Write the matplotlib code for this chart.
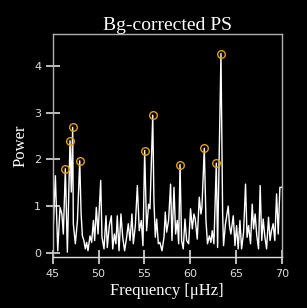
import matplotlib
matplotlib.use("Agg")
import matplotlib.pyplot as plt

# power spectrum (frequency in muHz, power)
freq = [45.0, 45.29, 45.55, 45.8, 46.0, 46.16, 46.38, 46.6, 46.89, 47.03,
        47.18, 47.25, 47.47, 47.7, 47.95, 48.1, 48.24, 48.4, 48.56, 48.7,
        48.85, 49.07, 49.25, 49.44, 49.58, 49.76, 49.95, 50.24, 50.38, 50.6,
        50.82, 50.96, 51.18, 51.4, 51.55, 51.73, 51.9, 52.05, 52.24, 52.45,
        52.64, 52.85, 53.07, 53.25, 53.44, 53.65, 53.8, 54.02, 54.24, 54.45,
        54.67, 54.85, 55.04, 55.25, 55.47, 55.62, 55.92, 56.05, 56.2, 56.35,
        56.53, 56.7, 56.93, 57.15, 57.29, 57.44, 57.65, 57.87, 58.02, 58.24,
        58.42, 58.6, 58.75, 58.9, 59.07, 59.25, 59.44, 59.62, 59.84, 60.05,
        60.24, 60.42, 60.56, 60.78, 61.0, 61.18, 61.29, 61.55, 61.73, 61.9,
        62.1, 62.27, 62.42, 62.6, 62.86, 63.0, 63.37, 63.55, 63.65, 63.85,
        64.16, 64.3, 64.45, 64.71, 64.9, 65.07, 65.25, 65.44, 65.62, 65.84,
        66.05, 66.22, 66.38, 66.6, 66.78, 66.93, 67.1, 67.28, 67.47, 67.65,
        67.82, 67.98, 68.15, 68.35, 68.56, 68.73, 68.88, 69.07, 69.25, 69.44,
        69.62, 69.8, 70.0]
power = [0.24, 1.65, 0.04, 0.97, 0.83, 0.40, 1.80, 0.01, 2.40, 1.30,
         2.69, 0.62, 0.19, 0.69, 1.97, 0.83, 0.36, 0.26, 0.08, 0.22,
         0.04, 0.36, 0.22, 0.69, 0.26, 0.97, 0.40, 1.55, 0.33, 0.08,
         0.79, 0.11, 0.58, 0.79, 0.08, 0.40, 0.19, 0.79, 0.04, 0.83,
         0.33, 0.04, 0.33, 0.62, 0.26, 0.83, 0.19, 0.58, 1.44, 0.47,
         0.69, 0.15, 2.19, 0.47, 1.04, 0.94, 2.95, 1.12, 0.33, 0.72,
         0.19, 0.22, 0.04, 0.33, 0.87, 0.44, 0.69, 1.47, 0.26, 1.40,
         0.40, 0.69, 0.19, 1.89, 0.26, 0.08, 0.72, 0.26, 0.19, 0.94,
         0.51, 0.83, 0.72, 0.29, 1.19, 0.83, 0.97, 2.24, 0.69, 0.19,
         0.36, 0.22, 0.47, 0.19, 1.92, 0.11, 4.27, 0.85, 0.15, 0.60,
         1.00, 0.58, 0.40, 0.79, 0.15, 0.58, 0.08, 0.69, 0.08, 0.44,
         1.47, 0.33, 0.58, 0.19, 1.04, 0.51, 0.83, 0.36, 0.08, 1.44,
         0.26, 0.72, 0.36, 0.08, 0.76, 0.26, 0.47, 0.62, 0.26, 1.26,
         0.40, 1.40, 1.40]

# detected peaks
peak_freq = [46.38, 46.89, 47.18, 47.95, 55.04, 55.92, 58.9, 61.55, 62.86, 63.37]
peak_power = [1.80, 2.40, 2.69, 1.97, 2.19, 2.95, 1.89, 2.24, 1.92, 4.27]

fig = plt.figure(figsize=(3.07, 3.08), dpi=100, facecolor="black")
ax = fig.add_axes([0.1717, 0.1646, 0.7459, 0.725])
ax.set_facecolor("black")

ax.plot(freq, power, color="white", lw=1.0)
ax.plot(peak_freq, peak_power, "o", mfc="none", mec="#e69f00", mew=1.0, ms=5.5)

ax.set_xlim(45, 70)
ax.set_ylim(-0.1, 4.69)
ax.set_xticks([45, 50, 55, 60, 65, 70])
ax.set_yticks([0, 1, 2, 3, 4])

for s in ax.spines.values():
    s.set_color("#b0b0b0")
    s.set_linewidth(1.0)
ax.spines["bottom"].set_color("#dddddd")

ax.tick_params(direction="inout", length=10.5, width=1.2, colors="#dddddd",
               labelsize=8, pad=3)

serif = ["Liberation Serif", "DejaVu Serif"]
ax.set_title("Bg-corrected PS", color="white", family=serif, fontsize=14, pad=3)
ax.set_xlabel("Frequency [μHz]", color="white", family=serif, fontsize=12, labelpad=3)
ax.set_ylabel("Power", color="white", family=serif, fontsize=12, labelpad=4)

fig.savefig("out.png", dpi=100, facecolor="black")
